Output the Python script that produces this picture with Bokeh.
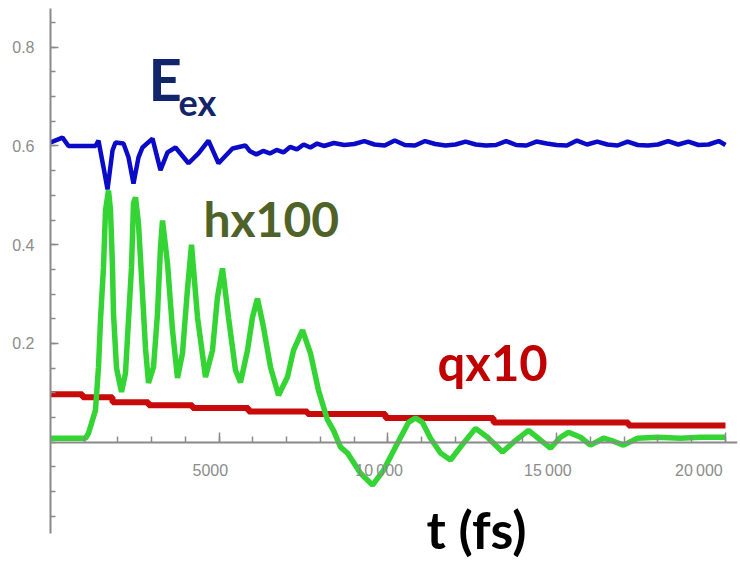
from bokeh.plotting import figure
from bokeh.models import FixedTicker, Label, Range1d
from bokeh.embed import file_html
from bokeh.resources import INLINE

# ---- data ----
t_e = [0, 356, 533, 1333, 1422, 1570, 1689, 1837, 1926, 2163, 2311, 2459, 2607, 2726,
       3022, 3259, 3467, 3704, 4089, 4385, 4681, 4978, 5393, 5778, 5900, 6100, 6300,
       6500, 6700, 6900, 7100, 7300, 7500, 7700, 7900, 8100, 8400, 8700, 9000, 9300,
       9600, 9900, 10200, 10500, 10800, 11100, 11400, 11700, 12000, 12300, 12600,
       12900, 13200, 13500, 13800, 14100, 14400, 14700, 15000, 15300, 15600, 15900,
       16200, 16500, 16800, 17100, 17400, 17700, 18000, 18300, 18600, 18900, 19200,
       19500, 19800, 20000]
e_ex = [0.607, 0.617, 0.600, 0.600, 0.611, 0.557, 0.512, 0.591, 0.607, 0.605, 0.577,
        0.524, 0.577, 0.597, 0.615, 0.551, 0.587, 0.597, 0.565, 0.585, 0.611, 0.565,
        0.595, 0.601, 0.590, 0.583, 0.590, 0.585, 0.592, 0.587, 0.598, 0.593, 0.603,
        0.597, 0.605, 0.600, 0.606, 0.602, 0.604, 0.610, 0.603, 0.601, 0.611, 0.602,
        0.601, 0.610, 0.604, 0.601, 0.603, 0.609, 0.603, 0.601, 0.602, 0.610, 0.602,
        0.601, 0.609, 0.605, 0.602, 0.601, 0.611, 0.603, 0.609, 0.603, 0.601, 0.609,
        0.602, 0.601, 0.603, 0.610, 0.603, 0.609, 0.602, 0.603, 0.610, 0.602]

t_h = [0, 1037, 1126, 1333, 1422, 1481, 1570, 1630, 1719, 1778, 1837, 1867, 1956,
       2104, 2222, 2311, 2400, 2459, 2519, 2607, 2726, 2815, 2904, 3052, 3170, 3259,
       3319, 3467, 3615, 3763, 3911, 4059, 4178, 4356, 4593, 4800, 4948, 5096, 5274,
       5481, 5630, 5837, 5985, 6133, 6311, 6519, 6756, 7022, 7200, 7467, 7704, 7941,
       8207, 8385, 8593, 8800, 9185, 9541, 9867, 10281, 10607, 10815, 11022, 11259,
       11556, 11852, 12237, 12593, 12948, 13393, 13719, 14163, 14519, 14815, 15111,
       15348, 15704, 16000, 16385, 16681, 16978, 17393, 17985, 18667, 19259, 20000]
h_x100 = [0.008, 0.008, 0.018, 0.065, 0.152, 0.247, 0.354, 0.470, 0.510, 0.470,
          0.354, 0.260, 0.150, 0.102, 0.140, 0.247, 0.354, 0.484, 0.496, 0.443,
          0.300, 0.190, 0.120, 0.152, 0.260, 0.395, 0.449, 0.362, 0.227, 0.130,
          0.180, 0.310, 0.400, 0.253, 0.132, 0.186, 0.294, 0.352, 0.253, 0.146,
          0.121, 0.186, 0.253, 0.291, 0.233, 0.152, 0.095, 0.132, 0.186, 0.227,
          0.180, 0.105, 0.045, 0.024, -0.010, -0.022, -0.063, -0.087, -0.057,
          -0.002, 0.040, 0.049, 0.040, 0.008, -0.022, -0.036, -0.002, 0.028, 0.010,
          -0.020, 0.000, 0.024, 0.004, -0.012, 0.010, 0.020, 0.010, -0.006, 0.008,
          0.002, -0.006, 0.008, 0.010, 0.008, 0.010, 0.010]

t_q = [0, 948, 1837, 2904, 4207, 5867, 7615, 9926, 13126, 17126, 20000]
q_x10 = [0.097, 0.091, 0.081, 0.075, 0.069, 0.062, 0.057, 0.049, 0.040, 0.034, 0.034]

x_major = [5000, 10000, 15000, 20000]
x_labels = {5000: "5000\u2007\u2007", 10000: "10\u2009000\u2007\u2007",
            15000: "15\u2009000\u2007\u2007", 20000: "20\u2009000\u2007\u2007"}
x_minor = [1000 * i for i in range(1, 21)]
y_major = [0.2, 0.4, 0.6, 0.8]
y_labels = {0.2: "0.2", 0.4: "0.4", 0.6: "0.6", 0.8: "0.8"}
y_minor = [round(-0.15 + 0.05 * i, 2) for i in range(21)]

# ---- figure ----
p = figure(width=740, height=561,
           x_range=Range1d(0, 20356), y_range=Range1d(-0.2417, 0.8785),
           output_backend="svg", toolbar_location=None,
           min_border_left=50, min_border_right=3, min_border_top=8, min_border_bottom=0)
p.outline_line_color = None
p.grid.visible = False
p.background_fill_color = "white"
p.border_fill_color = "white"

axis_col = "#8a8a8a"
for ax in (p.xaxis[0], p.yaxis[0]):
    ax.axis_line_color = axis_col
    ax.axis_line_width = 2
    ax.major_tick_line_color = axis_col
    ax.minor_tick_line_color = axis_col
    ax.major_tick_line_width = 1.5
    ax.minor_tick_line_width = 1.5
    ax.major_tick_out = 0
    ax.minor_tick_out = 0
    ax.major_label_text_color = "#8c8c8c"
    ax.major_label_text_font = "Liberation Sans"
    ax.major_label_text_font_size = "16px"

p.xaxis.fixed_location = 0
p.xaxis.ticker = FixedTicker(ticks=x_major, minor_ticks=x_minor)
p.xaxis.major_label_overrides = x_labels
p.xaxis.major_tick_in = 10
p.xaxis.minor_tick_in = 6
p.xaxis.major_label_standoff = 20

p.yaxis.bounds = (-0.184, 0.8785)
p.yaxis.ticker = FixedTicker(ticks=y_major, minor_ticks=y_minor)
p.yaxis.major_label_overrides = y_labels
p.yaxis.major_tick_in = 8
p.yaxis.minor_tick_in = 5
p.yaxis.major_label_standoff = 16

# ---- curves ----
p.step(t_q, q_x10, mode="after", line_color="#c80a0a", line_width=6)
p.line(t_h, h_x100, line_color="#35d435", line_width=5.5)
p.line(t_e, e_ex, line_color="#0a0ac8", line_width=4.5)

# ---- texts ----
font = "Lato"
p.add_layout(Label(x=2904, y=0.737, text="E", text_font=font, text_font_style="bold",
                   text_font_size="58px", text_color="#12246a", text_baseline="alphabetic"))
p.add_layout(Label(x=3793, y=0.690, text="ex", text_font=font, text_font_style="bold",
                   text_font_size="36px", text_color="#12246a", text_baseline="alphabetic"))
p.add_layout(Label(x=4533, y=0.453, text="hx100", text_font=font, text_font_style="bold",
                   text_font_size="48px", text_color="#4f6228", text_baseline="alphabetic"))
p.add_layout(Label(x=11467, y=0.162, text="qx10", text_font=font, text_font_style="bold",
                   text_font_size="49px", text_color="#c00000", text_baseline="alphabetic"))
p.add_layout(Label(x=12622, y=-0.176, text="t (fs)", text_font=font, text_font_style="bold",
                   text_font_size="52px", text_color="black", text_baseline="alphabetic",
                   text_align="center"))

open("out.html", "w").write(file_html(p, INLINE))
